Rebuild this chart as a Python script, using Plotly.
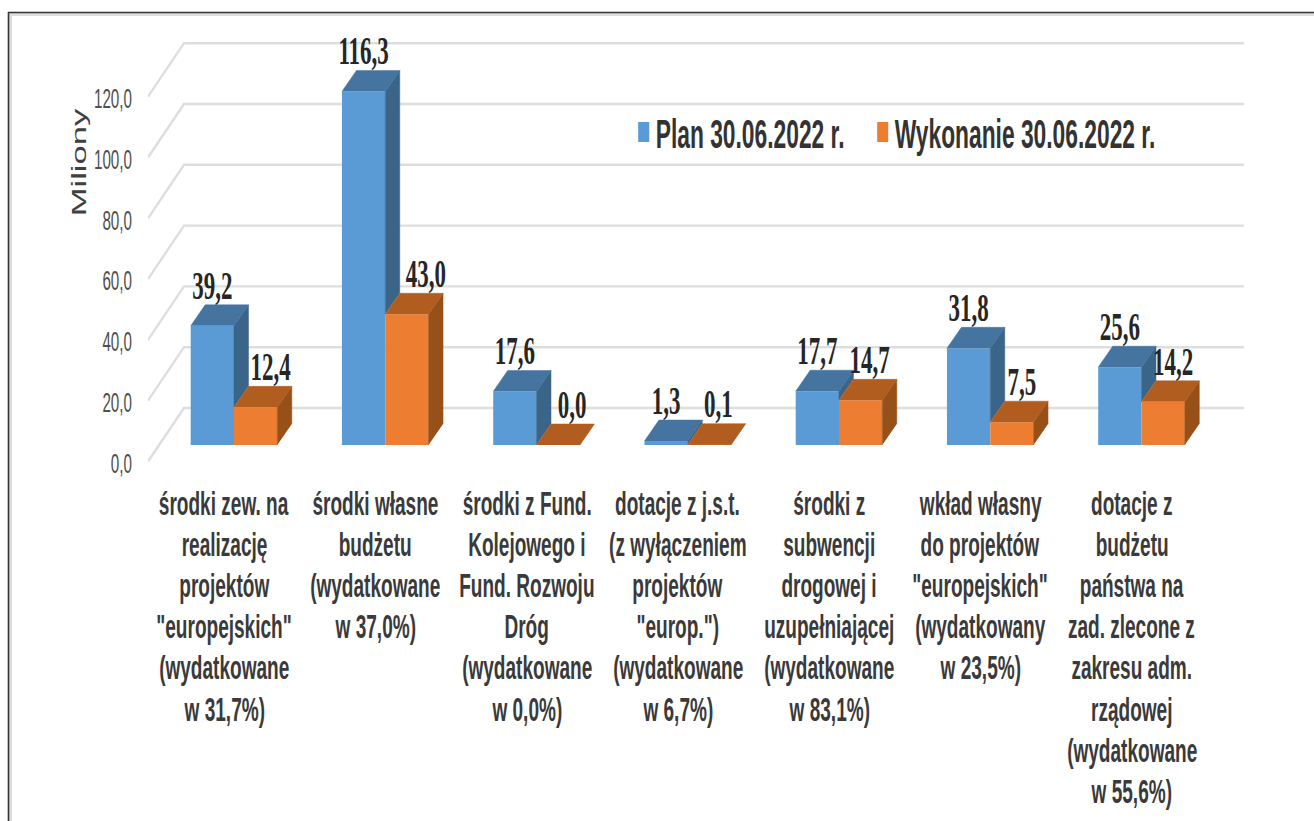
import plotly.graph_objects as go

categories = [
    ["środki zew. na", "realizację", "projektów", "\"europejskich\"", "(wydatkowane", "w 31,7%)"],
    ["środki własne", "budżetu", "(wydatkowane", "w 37,0%)"],
    ["środki z Fund.", "Kolejowego i", "Fund. Rozwoju", "Dróg", "(wydatkowane", "w 0,0%)"],
    ["dotacje z j.s.t.", "(z wyłączeniem", "projektów", "\"europ.\")", "(wydatkowane", "w 6,7%)"],
    ["środki z", "subwencji", "drogowej i", "uzupełniającej", "(wydatkowane", "w 83,1%)"],
    ["wkład własny", "do projektów", "\"europejskich\"", "(wydatkowany", "w 23,5%)"],
    ["dotacje z", "budżetu", "państwa na", "zad. zlecone z", "zakresu adm.", "rządowej", "(wydatkowane", "w 55,6%)"],
]
plan = [39.2, 116.3, 17.6, 1.3, 17.7, 31.8, 25.6]
wykonanie = [12.4, 43.0, 0.0, 0.1, 14.7, 7.5, 14.2]
y_ticks = [0, 20, 40, 60, 80, 100, 120]
series_names = ["Plan 30.06.2022 r.", "Wykonanie 30.06.2022 r."]
axis_title = "Miliony"

W, H = 1314, 821
PL, PR, PT, PB = 148, 1244, 30, 470
BASE_PX, PX_PER_UNIT = 445, 3.04
X0_PX, GROUP_PX = 234, 151.25
BAR_PX = 43.3
DEPTH_X = 14.5 / GROUP_PX
DEPTH_Y = 21 / PX_PER_UNIT
WALL_X = (184 - X0_PX) / GROUP_PX
WALL_Y = (BASE_PX - 408) / PX_PER_UNIT
FRONT_Y = (BASE_PX - 461.5) / PX_PER_UNIT
TICK_Y = (BASE_PX - 463) / PX_PER_UNIT
w = BAR_PX / GROUP_PX
orange_label_shift_px = [15, 19, 14, 9, 9, 10, 10]

x_range = [(PL - X0_PX) / GROUP_PX, (PR - X0_PX) / GROUP_PX]
y_range = [(BASE_PX - PB) / PX_PER_UNIT, (BASE_PX - PT) / PX_PER_UNIT]
xs = list(range(len(plan)))
fmt = lambda v: f"{v:.1f}".replace(".", ",")

SANS = "Liberation Sans"
TXT = "#3a3a3a"

fig = go.Figure()

# back wall gridlines (lower subplot)
gx, gy = [], []
for t in y_ticks:
    gx += [x_range[0], WALL_X, x_range[1], None]
    gy += [t + FRONT_Y, t + WALL_Y, t + WALL_Y, None]
fig.add_trace(go.Scatter(x=gx, y=gy, mode="lines", line=dict(color="#dedede", width=2.4),
                         showlegend=False, hoverinfo="skip", cliponaxis=False))

# front faces
fig.add_trace(go.Bar(x=xs, y=plan, name=series_names[0], marker=dict(color="#5B9BD5", line_width=0),
                     yaxis="y2", hoverinfo="skip"))
fig.add_trace(go.Bar(x=xs, y=wykonanie, name=series_names[1], marker=dict(color="#ED7D31", line_width=0),
                     yaxis="y2", hoverinfo="skip"))


def faces(left, right, values, lows, top_color, side_color):
    tx, ty, sx, sy = [], [], [], []
    for l, r, v, low in zip(left, right, values, lows):
        tx += [l, l + DEPTH_X, r + DEPTH_X, r, None]
        ty += [v, v + DEPTH_Y, v + DEPTH_Y, v, None]
        sx += [r, r, r + DEPTH_X, r + DEPTH_X, None]
        sy += [low, v, v + DEPTH_Y, low + DEPTH_Y, None]
    for px, py, c in ((sx, sy, side_color), (tx, ty, top_color)):
        fig.add_trace(go.Scatter(x=px, y=py, mode="lines", fill="toself", fillcolor=c,
                                 line=dict(color=c, width=0.5), yaxis="y2",
                                 showlegend=False, hoverinfo="skip"))


faces([i - w for i in xs], xs, plan, wykonanie, "#44749F", "#3A6488")
faces(xs, [i + w for i in xs], wykonanie, [0] * len(xs), "#B15D20", "#985019")

# data labels
label_font = dict(family="Liberation Serif", size=41, color="#262626", weight="bold")
LABEL_GAP = -4 / PX_PER_UNIT
fig.add_trace(go.Scatter(x=[i - w / 2 for i in xs], y=[v + DEPTH_Y + LABEL_GAP for v in plan],
                         text=[fmt(v) for v in plan], mode="text", textposition="top center",
                         textfont=label_font, yaxis="y2", showlegend=False, hoverinfo="skip",
                         cliponaxis=False))
fig.add_trace(go.Scatter(x=[i + w / 2 + s / GROUP_PX for i, s in zip(xs, orange_label_shift_px)],
                         y=[v + DEPTH_Y + LABEL_GAP for v in wykonanie],
                         text=[fmt(v) for v in wykonanie], mode="text", textposition="top center",
                         textfont=label_font, yaxis="y2", showlegend=False, hoverinfo="skip",
                         cliponaxis=False))

annotations = []
for i, lines in enumerate(categories):
    for n, line in enumerate(lines):
        annotations.append(dict(x=i, xref="x", xshift=-10, y=1 - (502.5 + 41.2 * n) / H, yref="paper",
                                text=f"<b>{line}</b>", showarrow=False, xanchor="center", yanchor="middle",
                                font=dict(family=SANS, size=34, color=TXT)))
annotations.append(dict(x=78 / W, y=1 - 162 / H, xref="paper", yref="paper", text=axis_title, textangle=-90,
                        xanchor="center", yanchor="middle", showarrow=False,
                        font=dict(family=SANS, size=21, color="#404040")))

shapes = [
    dict(type="rect", xref="paper", yref="paper", x0=9 / W, x1=1, y0=1 - 16 / H, y1=1 - 13 / H,
         fillcolor="#dddddd", line_width=0),
    dict(type="rect", xref="paper", yref="paper", x0=9 / W, x1=12 / W, y0=0, y1=1 - 13 / H,
         fillcolor="#dddddd", line_width=0),
    dict(type="line", xref="paper", yref="paper", x0=8 / W, x1=1, y0=1 - 12.5 / H, y1=1 - 12.5 / H,
         line=dict(color="#333333", width=1.6)),
    dict(type="line", xref="paper", yref="paper", x0=8.5 / W, x1=8.5 / W, y0=0, y1=1 - 12 / H,
         line=dict(color="#333333", width=1.6)),
]

fig.update_layout(
    width=W, height=H, margin=dict(l=0, r=0, t=0, b=0, autoexpand=False),
    paper_bgcolor="white", plot_bgcolor="rgba(0,0,0,0)",
    barmode="group", bargap=1 - 2 * w, bargroupgap=0,
    xaxis=dict(domain=[PL / W, PR / W], range=x_range, visible=False, fixedrange=True),
    yaxis=dict(domain=[1 - PB / H, 1 - PT / H], range=y_range, tickvals=[t + TICK_Y for t in y_ticks],
               ticktext=[fmt(t) for t in y_ticks], showgrid=False, zeroline=False, showline=False,
               ticks="", ticklabelstandoff=15, tickfont=dict(family=SANS, size=28, color="#505050"),
               fixedrange=True),
    yaxis2=dict(overlaying="y", range=y_range, visible=False, fixedrange=True),
    legend=dict(orientation="h", x=623.7 / W, y=1 - 132 / H, xanchor="left", yanchor="middle",
                bgcolor="rgba(0,0,0,0)", font=dict(family=SANS, size=40, color="#333333", weight="bold"),
                entrywidth=194, entrywidthmode="pixels",
                itemclick=False, itemdoubleclick=False),
    showlegend=True, annotations=annotations, shapes=shapes,
)

# The reference's text is horizontally squeezed (or stretched), which fonts alone cannot give.
POST = """
document.body.style.margin='0';document.body.style.overflow='hidden';
(function(){
  var gd=document.getElementById('{plot_id}');
  function sq(el,sx,dx){
    if(el.getAttribute('data-sq'))return;
    el.setAttribute('data-sq','1');
    if(dx){el.setAttribute('x',parseFloat(el.getAttribute('x')||0)+dx);}
    var x=parseFloat(el.getAttribute('x')||0),y=parseFloat(el.getAttribute('y')||0);
    var t=el.getAttribute('transform')||'';
    el.setAttribute('transform',t+' translate('+x+','+y+') scale('+sx+',1) translate('+(-x)+','+(-y)+')');
  }
  function each(sel,sx,dx){gd.querySelectorAll(sel).forEach(function(el){sq(el,sx,dx);});}
  function apply(){
    gd.querySelectorAll('.annotation-text').forEach(function(el){
      if(el.textContent==='AXIS_TITLE'){
        if(el.getAttribute('data-sq'))return;
        el.setAttribute('data-sq','1');
        var b=el.getBBox(),c=b.x+b.width/2,y=b.y+b.height/2;
        el.setAttribute('transform',(el.getAttribute('transform')||'')+' translate('+c+','+y+') scale(1.65,1) translate('+(-c)+','+(-y)+')');
      }else{sq(el,0.56);}
    });
    each('.ytick text',0.543);
    each('.textpoint text',0.56);
    each('.legendtext',0.57,-8);
    gd.querySelectorAll('.legend .scrollbox').forEach(function(el){el.removeAttribute('clip-path');});
    gd.querySelectorAll('.legendpoints path').forEach(function(el){
      if(el.getAttribute('data-sq'))return;
      el.setAttribute('data-sq','1');
      el.setAttribute('transform',(el.getAttribute('transform')||'')+' scale(0.92,1.67)');
    });
  }
  apply();
  gd.on('plotly_afterplot',apply);
  setTimeout(apply,50);
})();
""".replace("AXIS_TITLE", axis_title)

fig.write_html("out.html", config={"displayModeBar": False}, post_script=POST)
